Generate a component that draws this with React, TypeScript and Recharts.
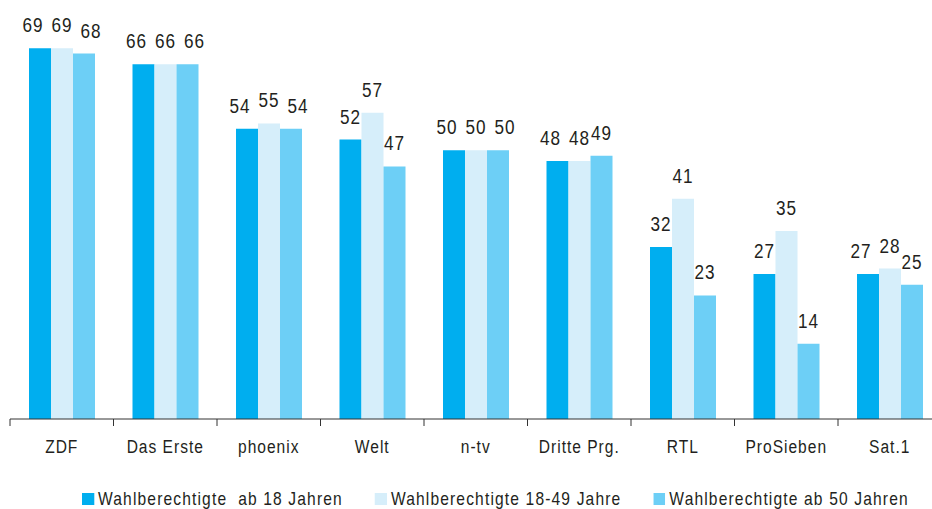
import React from "react";
import { BarChart, Bar, XAxis, YAxis, LabelList, Legend } from "recharts";

const categories = ["ZDF", "Das Erste", "phoenix", "Welt", "n-tv", "Dritte Prg.", "RTL", "ProSieben", "Sat.1"];
const ab18 = [69, 66, 54, 52, 50, 48, 32, 27, 27];
const age18to49 = [69, 66, 55, 57, 50, 48, 41, 35, 28];
const ab50 = [68, 66, 54, 47, 50, 49, 23, 14, 25];
const seriesNames = ["Wahlberechtigte  ab 18 Jahren", "Wahlberechtigte 18-49 Jahre", "Wahlberechtigte ab 50 Jahren"];
const seriesKeys = ["ab18", "age18to49", "ab50"];
const seriesValues = [ab18, age18to49, ab50];
const colors = ["#00aeef", "#d6eefa", "#6dcff6"];

const data = categories.map((c, i) => ({ name: c, ab18: ab18[i], age18to49: age18to49[i], ab50: ab50[i] }));

const FONT = "'Liberation Sans', Arial, sans-serif";
const SX = 0.82;
const TEXT = "#231f20";
const CHART_W = 942;
const CHART_H = 509;
const MARGIN = { top: 16, right: 0.5, left: 10, bottom: 0 };
const BAND = (CHART_W - MARGIN.left - MARGIN.right) / categories.length;
const SPREAD = 7;

const NarrowText = ({ x, y, children, sx = SX, size = 19 }: any) => (
  <text
    transform={`translate(${x},${y}) scale(${sx},1)`}
    x={0}
    y={0}
    textAnchor="middle"
    fill={TEXT}
    fontSize={size}
    fontFamily={FONT}
    letterSpacing={1.2}
    style={{ whiteSpace: "pre" }}
  >
    {children}
  </text>
);

const AxisTick = (props: any) => {
  const { x, y, payload, index } = props;
  return (
    <g>
      <line x1={x - BAND / 2} x2={x - BAND / 2} y1={y} y2={y + 7} stroke="#333" strokeWidth={1} />
      {index === categories.length - 1 && (
        <line x1={x + BAND / 2} x2={x + BAND / 2} y1={y} y2={y + 7} stroke="#333" strokeWidth={1} />
      )}
      <NarrowText x={x} y={y + 34}>{payload.value}</NarrowText>
    </g>
  );
};

// spread labels of outer bars sideways when they would collide with the middle label
const labelShift = (series: number, i: number) => {
  const mid = seriesValues[1][i];
  const v = seriesValues[series][i];
  if (series === 1) return 0;
  const collide = v === mid || (v < mid && mid - v <= 1);
  if (!collide) return 0;
  return series === 0 ? -SPREAD : SPREAD;
};

const makeLabel = (series: number) => (props: any) => {
  const { x, y, width, value, index } = props;
  return (
    <NarrowText x={x + width / 2 + labelShift(series, index)} y={y - 16} sx={0.88} size={19.5}>
      {value}
    </NarrowText>
  );
};

const LegendContent = () => (
  <div style={{ position: "relative", height: 20, width: 932 }}>
    <div
      style={{
        position: "absolute",
        left: 82,
        top: 0,
        display: "flex",
        alignItems: "center",
        height: 20,
        whiteSpace: "nowrap",
        fontFamily: FONT,
        fontSize: 19,
        color: TEXT,
        letterSpacing: 1.4,
        transform: `scaleX(${SX})`,
        transformOrigin: "0 50%",
      }}
    >
      {seriesNames.map((n, i) => (
        <div key={n} style={{ display: "flex", alignItems: "center", marginRight: 32 / SX }}>
          <span style={{ display: "inline-block", width: 12 / SX, height: 12, background: colors[i], marginRight: 4 / SX }} />
          <span style={{ whiteSpace: "pre", lineHeight: "20px" }}>{n}</span>
        </div>
      ))}
    </div>
  </div>
);

const labelRenderers = seriesKeys.map((_, s) => makeLabel(s));

export default function App() {
  return (
    <div style={{ width: 932, height: 509, overflow: "hidden", background: "#fff" }}>
      <style>{`html,body{margin:0;padding:0;overflow:hidden;background:#fff}`}</style>
      <BarChart width={CHART_W} height={CHART_H} data={data} margin={MARGIN} barGap={0} barSize={22}>
        <XAxis
          dataKey="name"
          height={70}
          tickSize={0}
          tickMargin={0}
          tickLine={false}
          axisLine={{ stroke: "#333", strokeWidth: 1 }}
          tick={<AxisTick />}
          interval={0}
        />
        <YAxis hide domain={[0, 75]} />
        <Legend verticalAlign="bottom" height={20} wrapperStyle={{ left: 0, width: 932, bottom: 0 }} content={<LegendContent />} />
        {seriesKeys.map((k, i) => (
          <Bar key={k} dataKey={k} name={seriesNames[i]} fill={colors[i]} isAnimationActive={false}>
            <LabelList dataKey={k} content={labelRenderers[i]} />
          </Bar>
        ))}
      </BarChart>
    </div>
  );
}
